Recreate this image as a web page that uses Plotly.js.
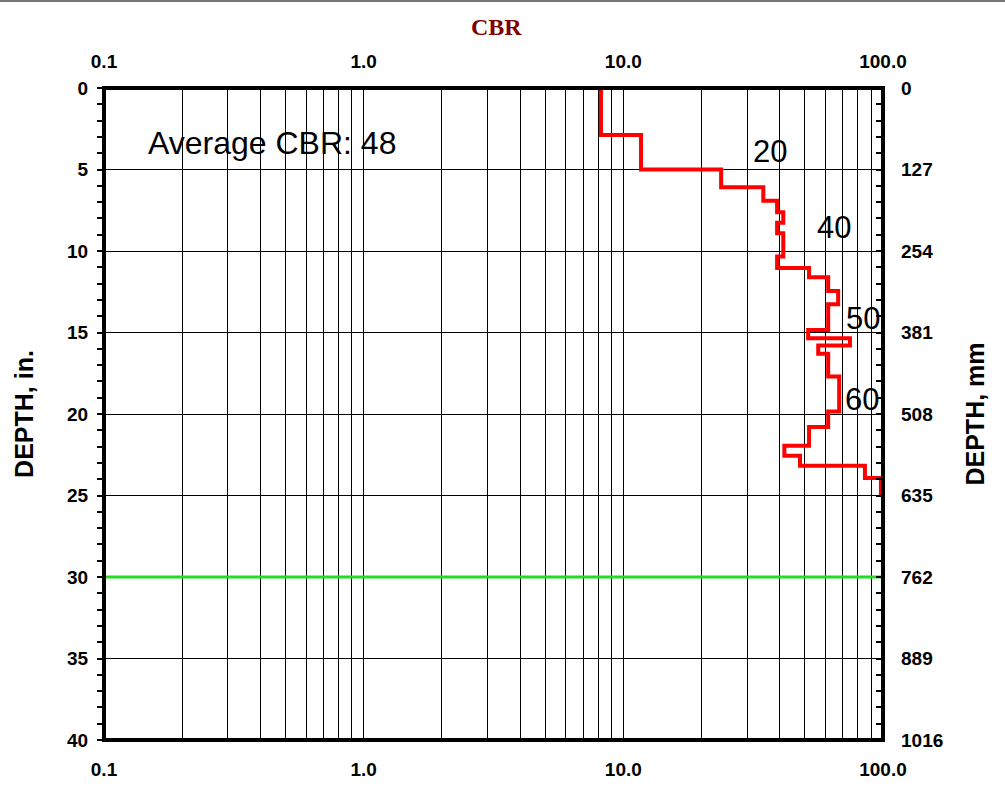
<!DOCTYPE html>
<html>
<head>
<meta charset="utf-8">
<script src="https://cdn.plot.ly/plotly-3.0.1.min.js"></script>
<style>
  html, body { margin: 0; padding: 0; background: #fff; }
  #chart { width: 1005px; height: 793px; }
</style>
</head>
<body>
<div id="chart"></div>
<script>
// ---- data ----
// layer boundaries (depth, in.) and CBR of each layer between them
const depthBoundaries = [0, 2.88, 5.0, 6.09, 6.91, 7.62, 8.26, 8.91, 10.34, 11.05, 11.61, 12.45,
  13.26, 14.84, 15.35, 15.80, 16.31, 17.70, 19.85, 20.80, 21.95, 22.56, 23.18, 23.93, 25.0];
const cbrValues = [8.2, 11.7, 23.8, 34.6, 39.1, 41.3, 39.1, 41.3, 39.1, 51.9, 61.5, 67.2,
  61.5, 51.5, 74.6, 56.3, 61.5, 67.8, 61.5, 51.9, 41.7, 47.9, 85.2, 98.2];
const averageCBR = 48;
const limitDepth = [30, 30];
const limitCBR = [0.1, 100];
const blowLabels = ["20", "40", "50", "60"];
const blowLabelCBR = [36.8, 64.5, 83.5, 83.0];
const blowLabelDepth = [3.92, 8.58, 14.15, 19.11];

const xDecades = [0.1, 1, 10, 100];
const xDecadeText = ["0.1", "1.0", "10.0", "100.0"];
const depthTicksIn = [0, 5, 10, 15, 20, 25, 30, 35, 40];
const depthTicksMm = [0, 127, 254, 381, 508, 635, 762, 889, 1016];

// ---- build ----
const xGrid = [];
const xGridText = [];
for (let d = 0; d < 3; d++) {
  for (let k = 1; k <= 9; k++) {
    const v = xDecades[d] * k;
    xGrid.push(v);
    xGridText.push(k === 1 ? xDecadeText[d] : "");
  }
}
xGrid.push(xDecades[3]);
xGridText.push(xDecadeText[3]);

const minorIn = [];
for (let i = 0; i <= 40; i++) minorIn.push(i);
const minorMm = minorIn.map(v => v * 25.4);

// step line: vertical then horizontal
const stepX = cbrValues.concat([cbrValues[cbrValues.length - 1]]);
const stepY = depthBoundaries.slice();

const tickFont = { family: "Liberation Sans, Arial, sans-serif", size: 19, color: "#000", weight: "bold" };
const titleFont = { family: "Liberation Sans, Arial, sans-serif", size: 25, color: "#000", weight: "bold" };

const traces = [
  {
    x: limitCBR, y: limitDepth, mode: "lines", type: "scatter",
    line: { color: "#22dd22", width: 3 }, hoverinfo: "skip", showlegend: false
  },
  {
    x: stepX, y: stepY, mode: "lines", type: "scatter",
    line: { color: "#ff0000", width: 4, shape: "vh" }, showlegend: false
  },
  {
    x: [], y: [], xaxis: "x2", yaxis: "y2", type: "scatter", mode: "lines",
    showlegend: false, hoverinfo: "skip"
  }
];

const annotations = [
  {
    text: "CBR", xref: "paper", yref: "paper", x: (496 - 104) / 779, y: 1 + (88 - 27) / 652,
    xanchor: "center", yanchor: "middle", showarrow: false,
    font: { family: "Liberation Serif, Times New Roman, serif", size: 24, color: "#800000", weight: "bold" }
  },
  {
    text: "Average CBR: " + averageCBR, xref: "x", yref: "y",
    x: Math.log10(0.1 * Math.pow(10, (146 - 104) / 259.7)), y: 3.4,
    xanchor: "left", yanchor: "middle", showarrow: false,
    font: { family: "Liberation Sans, Arial, sans-serif", size: 32, color: "#000" }
  }
];
for (let i = 0; i < blowLabels.length; i++) {
  annotations.push({
    text: blowLabels[i], xref: "x", yref: "y",
    x: Math.log10(blowLabelCBR[i]), y: blowLabelDepth[i],
    xanchor: "center", yanchor: "middle", showarrow: false,
    font: { family: "Liberation Sans, Arial, sans-serif", size: 31, color: "#000" }
  });
}

const layout = {
  width: 1005, height: 793,
  margin: { l: 104, r: 122, t: 88, b: 53, pad: 0 },
  paper_bgcolor: "#fff", plot_bgcolor: "#fff",
  showlegend: false,
  xaxis: {
    type: "log", range: [-1, 2], tickmode: "array", tickvals: xGrid, ticktext: xGridText,
    showgrid: true, gridcolor: "#000", gridwidth: 1, ticks: "", zeroline: false,
    showline: false, tickfont: tickFont, ticklabelstandoff: 16, side: "bottom"
  },
  xaxis2: {
    type: "log", range: [-1, 2], overlaying: "x", side: "top", tickmode: "array",
    tickvals: xDecades, ticktext: xDecadeText, showgrid: false, ticks: "", zeroline: false,
    showline: false, tickfont: tickFont, ticklabelstandoff: 15
  },
  yaxis: {
    range: [40, 0], tickmode: "array", tickvals: depthTicksIn, showgrid: true,
    gridcolor: "#000", gridwidth: 1, zeroline: false, showline: false,
    ticks: "outside", ticklen: 6, tickwidth: 2, tickcolor: "#000",
    minor: { tickvals: minorIn, ticks: "outside", ticklen: 6, tickwidth: 2, tickcolor: "#000", showgrid: false },
    tickfont: tickFont, ticklabelstandoff: 5,
    title: { text: "DEPTH, in.", font: titleFont, standoff: 26 }
  },
  yaxis2: {
    range: [1016, 0], overlaying: "y", side: "right", tickmode: "array",
    tickvals: depthTicksMm, showgrid: false, zeroline: false, showline: false,
    ticks: "inside", ticklen: 7, tickwidth: 2, tickcolor: "#000",
    minor: { tickvals: minorMm, ticks: "inside", ticklen: 7, tickwidth: 2, tickcolor: "#000", showgrid: false },
    tickfont: tickFont, ticklabelstandoff: 17,
    title: { text: "DEPTH, mm", font: titleFont, standoff: 24 }
  },
  shapes: [
    {
      type: "rect", xref: "paper", yref: "paper", x0: 0, x1: 1, y0: 0, y1: 1,
      line: { color: "#000", width: 4 }, fillcolor: "rgba(0,0,0,0)", layer: "above"
    },
    {
      type: "line", xref: "paper", yref: "paper", x0: -104 / 779, x1: 1 + 122 / 779,
      y0: 1 + 87 / 652, y1: 1 + 87 / 652, line: { color: "#777", width: 2 }
    }
  ],
  annotations: annotations
};

Plotly.newPlot("chart", traces, layout, { displayModeBar: false, staticPlot: true });
</script>
</body>
</html>
